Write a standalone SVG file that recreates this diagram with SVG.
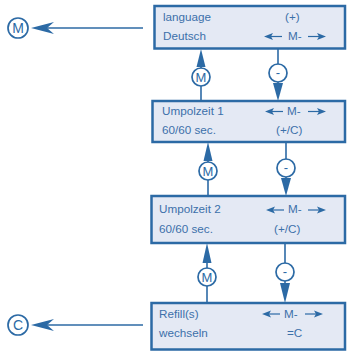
<svg xmlns="http://www.w3.org/2000/svg" width="348" height="351" viewBox="0 0 348 351">
<defs>
<style>
.box{fill:#e4e9f4;stroke:#2c6aa5;stroke-width:2.5}
.t{font-family:"Liberation Sans",Arial,sans-serif;font-size:11.7px;fill:#3c70aa}
.ln{stroke:#2c6aa5;stroke-width:1.6;fill:none}
.ah{fill:#2c6aa5}
.cir{fill:#ffffff;stroke:#2c6aa5;stroke-width:1.7}
.ct{font-family:"Liberation Sans",Arial,sans-serif;font-size:13px;fill:#2c6aa5;text-anchor:middle}
</style>
<g id="la"><path d="M0,0 L9,-3.5 L7,0 L9,3.5 Z" fill="#2c6aa5"/><path d="M7,0 H18" stroke="#2c6aa5" stroke-width="1.2"/></g>
<g id="ra"><path d="M18,0 L9,-3.5 L11,0 L9,3.5 Z" fill="#2c6aa5"/><path d="M0,0 H11" stroke="#2c6aa5" stroke-width="1.2"/></g>
</defs>

<g id="connectors">
<path class="ln" d="M143,28 H44"/>
<path class="ah" d="M31,28 L54,22 L47,28 L54,34 Z"/>
<path class="ln" d="M143,325 H44"/>
<path class="ah" d="M31,325 L54,319 L47,325 L54,331 Z"/>

<path class="ln" d="M201,60 V101"/>
<path class="ah" d="M201,49 L205.5,67 L196.5,67 Z"/>
<path class="ln" d="M278,49 V90"/>
<path class="ah" d="M278,101 L273,83 L283,83 Z"/>

<path class="ln" d="M208,155 V196"/>
<path class="ah" d="M208,142 L212.5,161 L203.5,161 Z"/>
<path class="ln" d="M286,142 V185"/>
<path class="ah" d="M286,196 L281,178 L291,178 Z"/>

<path class="ln" d="M207,256 V303"/>
<path class="ah" d="M207,243 L211.5,263 L202.5,263 Z"/>
<path class="ln" d="M285,243 V290"/>
<path class="ah" d="M285,303 L280,283 L290,283 Z"/>

<circle class="cir" cx="201" cy="77" r="9"/><text class="ct" x="201" y="81.7">M</text>
<circle class="cir" cx="278" cy="73" r="9"/><text class="ct" x="278" y="76.5">-</text>
<circle class="cir" cx="208" cy="171" r="9"/><text class="ct" x="208" y="175.7">M</text>
<circle class="cir" cx="286" cy="168" r="9"/><text class="ct" x="286" y="171.5">-</text>
<circle class="cir" cx="207" cy="277" r="9"/><text class="ct" x="207" y="281.7">M</text>
<circle class="cir" cx="285" cy="272" r="9"/><text class="ct" x="285" y="275.5">-</text>
</g>

<g id="nodeM"><circle class="cir" cx="18" cy="28" r="10"/><text class="ct" x="18" y="32.7" style="font-size:14px">M</text></g>
<g id="nodeC"><circle class="cir" cx="18" cy="325" r="10"/><text class="ct" x="18" y="329.7" style="font-size:14px">C</text></g>

<g id="box1">
<rect class="box" x="154.5" y="6" width="190.5" height="42.5"/>
<text class="t" x="163" y="21">language</text>
<text class="t" x="285" y="21">(+)</text>
<text class="t" x="163" y="40">Deutsch</text>
<use href="#la" x="264" y="36.5"/>
<text class="t" x="288" y="40">M-</text>
<use href="#ra" x="308" y="36.5"/>
</g>

<g id="box2">
<rect class="box" x="152.5" y="101" width="192.5" height="41"/>
<text class="t" x="162" y="115">Umpolzeit 1</text>
<use href="#la" x="265" y="111.5"/>
<text class="t" x="287" y="115">M-</text>
<use href="#ra" x="308" y="111.5"/>
<text class="t" x="162" y="133.5">60/60 sec.</text>
<text class="t" x="276" y="133.5">(+/C)</text>
</g>

<g id="box3">
<rect class="box" x="151.5" y="196" width="193.5" height="47"/>
<text class="t" x="159" y="213">Umpolzeit 2</text>
<use href="#la" x="266" y="210"/>
<text class="t" x="288" y="213">M-</text>
<use href="#ra" x="308" y="210"/>
<text class="t" x="159" y="233">60/60 sec.</text>
<text class="t" x="274" y="233">(+/C)</text>
</g>

<g id="box4">
<rect class="box" x="151.5" y="303" width="193.5" height="46.5"/>
<text class="t" x="159" y="318">Refill(s)</text>
<use href="#la" x="262" y="314"/>
<text class="t" x="284" y="318">M-</text>
<use href="#ra" x="305" y="314"/>
<text class="t" x="159" y="337">wechseln</text>
<text class="t" x="287" y="337">=C</text>
</g>
</svg>
